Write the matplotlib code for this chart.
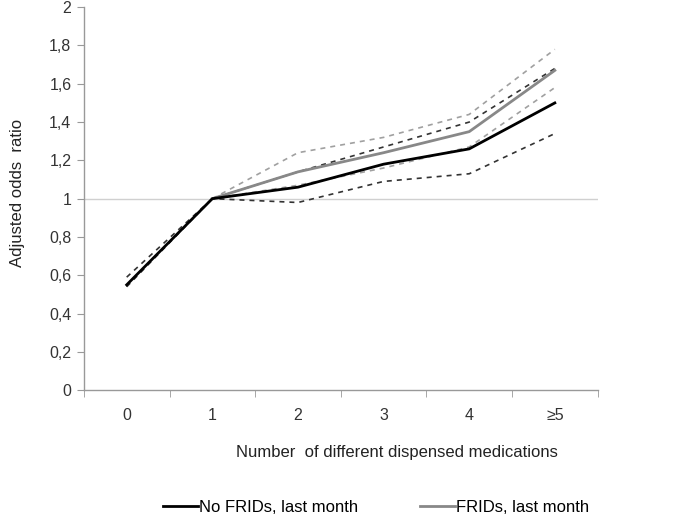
import matplotlib
matplotlib.use("Agg")
import matplotlib.pyplot as plt
import numpy as np

plt.rcParams['font.family'] = ['Liberation Sans', 'DejaVu Sans']

# categories on the x axis
categories = ['0', '1', '2', '3', '4', '≥5']

# No FRIDs, last month (point estimate + CI)
no_frid = [0.55, 1.0, 1.06, 1.18, 1.26, 1.50]
no_frid_hi = [0.59, 1.0, 1.14, 1.27, 1.40, 1.68]
no_frid_lo = [0.54, 1.0, 0.98, 1.09, 1.13, 1.34]

# FRIDs, last month (starts at 1)
frid = [1.0, 1.14, 1.24, 1.35, 1.67]
frid_hi = [1.0, 1.24, 1.32, 1.44, 1.78]
frid_lo = [1.0, 1.07, 1.16, 1.27, 1.58]

yticks = [0, 0.2, 0.4, 0.6, 0.8, 1, 1.2, 1.4, 1.6, 1.8, 2]
ytick_labels = ['0', '0,2', '0,4', '0,6', '0,8', '1', '1,2', '1,4', '1,6', '1,8', '2']

x_all = np.arange(len(categories))
x_frid = x_all[1:]

fig = plt.figure(figsize=(6.99, 5.14), dpi=100)
ax = fig.add_axes([0.120, 0.241, 0.735, 0.745])

ax.axhline(1, color='#d0d0d0', lw=1.0, zorder=1)

# confidence bands as dashed lines
ax.plot(x_frid, frid_hi, color='#a0a0a0', lw=1.2, ls=(0, (3, 3)), zorder=2)
ax.plot(x_frid, frid_lo, color='#a0a0a0', lw=1.2, ls=(0, (3, 3)), zorder=2)
ax.plot(x_all, no_frid_hi, color='#333333', lw=1.2, ls=(0, (3, 3)), zorder=3)
ax.plot(x_all, no_frid_lo, color='#333333', lw=1.2, ls=(0, (3, 3)), zorder=3)

# estimates
ax.plot(x_all, no_frid, color='black', lw=2.0, label='No FRIDs, last month', zorder=5)
ax.plot(x_frid, frid, color='#888888', lw=2.0, label='FRIDs, last month', zorder=4)

ax.set_xlim(-0.5, len(categories) - 0.5)
ax.set_ylim(0, 2)
ax.set_yticks(yticks)
ax.set_yticklabels(ytick_labels, fontsize=11.5, color='#333333')
ax.set_xticks(x_all)
ax.set_xticklabels(categories, fontsize=11.5, color='#333333')
ax.tick_params(axis='x', length=0, pad=13)
ax.set_xticks(np.arange(-0.5, len(categories), 1), minor=True)
ax.tick_params(axis='x', which='minor', length=5, color='#999999', direction='out')
ax.tick_params(axis='y', length=5, color='#999999', direction='out', pad=4)

for s in ['top', 'right']:
    ax.spines[s].set_visible(False)
for s in ['left', 'bottom']:
    ax.spines[s].set_color('#999999')
    ax.spines[s].set_linewidth(1.0)

ax.set_xlabel('Number  of different dispensed medications', fontsize=12, color='#222222', va='center')
ax.xaxis.set_label_coords(0.609, -0.164)
ax.set_ylabel('Adjusted odds  ratio', fontsize=12, color='#222222', va='center')
ax.yaxis.set_label_coords(-0.130, 0.514)

fig.legend(loc='center', bbox_to_anchor=(0.538, 0.012), ncol=2, frameon=False,
           fontsize=12, handlelength=2.1, handletextpad=0.05, columnspacing=3.7,
           borderpad=0, borderaxespad=0)

fig.savefig('out.png', dpi=100)
